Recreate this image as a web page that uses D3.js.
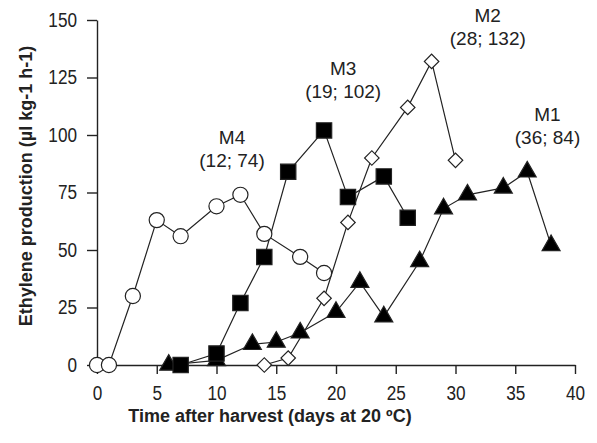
<!DOCTYPE html>
<html lang="en">
<head>
<meta charset="UTF-8">
<title>Ethylene production</title>
<script src="https://d3js.org/d3.v7.min.js"></script>
<style>
    body { margin: 0; background: #fff; }
    svg { display: block; }
    text { font-family: "Liberation Sans", Arial, sans-serif; fill: #222; }
    .title { font-weight: bold; }
</style>
</head>
<body>
<div id="chart"></div>
<script>
    // data (day, ethylene)
    const m4 = [[0, 0], [1, 0], [3, 30], [5, 63], [7, 56], [10, 69], [12, 74], [14, 57], [17, 47], [19, 40]];
    const m3 = [[7, 0], [10, 5], [12, 27], [14, 47], [16, 84], [19, 102], [21, 73], [24, 82], [26, 64]];
    const m2 = [[14, 0], [16, 3], [19, 29], [21, 62], [23, 90], [26, 112], [28, 132], [30, 89]];
    const m1 = [[6, 0], [10, 2], [13, 9], [15, 10], [17, 14], [20, 23], [22, 36], [24, 21], [27, 45], [29, 68], [31, 74], [34, 77], [36, 84], [38, 52]];

    const seriesNames = ["M4", "M3", "M2", "M1"];
    const peakLabels = ["(12; 74)", "(19; 102)", "(28; 132)", "(36; 84)"];
    // where each label sits, in data units (day, value)
    const labelAt = [[11.3, 96], [20.6, 126], [32.7, 149], [37.7, 106]];

    const xTicks = [0, 5, 10, 15, 20, 25, 30, 35, 40];
    const yTicks = [0, 25, 50, 75, 100, 125, 150];

    const width = 597, height = 443;
    const margin = { top: 20, right: 22, bottom: 78, left: 97 };

    const svg = d3.select("#chart").append("svg")
        .attr("width", width)
        .attr("height", height);

    const x = d3.scaleLinear().domain([0, 40]).range([margin.left, width - margin.right]);
    const y = d3.scaleLinear().domain([0, 150]).range([height - margin.bottom, margin.top]);

    // axes
    const xAxis = svg.append("g")
        .attr("transform", `translate(0,${y(0)})`)
        .call(d3.axisBottom(x).tickValues(xTicks).tickSize(9).tickPadding(12).tickSizeOuter(0));
    const yAxis = svg.append("g")
        .attr("transform", `translate(${x(0)},0)`)
        .call(d3.axisLeft(y).tickValues(yTicks).tickSize(10).tickPadding(10).tickSizeOuter(0));

    [xAxis, yAxis].forEach(a => {
        a.select(".domain").attr("stroke", "#222").attr("stroke-width", 1.4);
        a.selectAll(".tick line").attr("stroke", "#222").attr("stroke-width", 1.4);
        a.selectAll(".tick text")
            .style("font-size", "19.5px")
            .attr("fill", "#222")
            .each(function () {
                // the original uses a narrow face
                const w = this.getComputedTextLength();
                d3.select(this).attr("textLength", w * 0.88).attr("lengthAdjust", "spacingAndGlyphs");
            });
    });

    svg.append("text")
        .attr("class", "title")
        .attr("x", 270).attr("y", 422)
        .attr("text-anchor", "middle")
        .style("font-size", "18px")
        .text("Time after harvest (days at 20 ºC)");

    svg.append("text")
        .attr("class", "title")
        .attr("transform", `translate(32,${186}) rotate(-90)`)
        .attr("text-anchor", "middle")
        .style("font-size", "18px")
        .text("Ethylene production (µl kg-1 h-1)");

    const line = d3.line().x(d => x(d[0])).y(d => y(d[1]));
    const all = [m4, m3, m2, m1];

    const plot = svg.append("g");
    all.forEach(s => {
        plot.append("path")
            .datum(s)
            .attr("d", line)
            .attr("fill", "none")
            .attr("stroke", "#222")
            .attr("stroke-width", 1.2);
    });

    // markers: M4 open circle, M3 filled square, M2 open diamond, M1 filled triangle
    const symbols = [
        { type: d3.symbolCircle, size: 180, fill: "#fff", rot: 0 },
        { type: d3.symbolSquare, size: 235, fill: "#000", rot: 0 },
        { type: d3.symbolSquare, size: 105, fill: "#fff", rot: 45 },
        { type: d3.symbolTriangle, size: 140, fill: "#000", rot: 0 }
    ];
    [2, 0, 3, 1].forEach(i => {
        plot.append("g").selectAll("path")
            .data(all[i])
            .join("path")
            .attr("transform", d => `translate(${x(d[0])},${y(d[1])}) rotate(${symbols[i].rot})`)
            .attr("d", d3.symbol().type(symbols[i].type).size(symbols[i].size))
            .attr("fill", symbols[i].fill)
            .attr("stroke", "#222")
            .attr("stroke-width", 1.2);
    });

    // peak annotations
    seriesNames.forEach((n, i) => {
        const g = svg.append("text")
            .attr("text-anchor", "middle")
            .style("font-size", "19px");
        g.append("tspan").attr("x", x(labelAt[i][0])).attr("y", y(labelAt[i][1])).text(n);
        g.append("tspan").attr("x", x(labelAt[i][0])).attr("dy", 23).text(peakLabels[i]);
    });
</script>
</body>
</html>
